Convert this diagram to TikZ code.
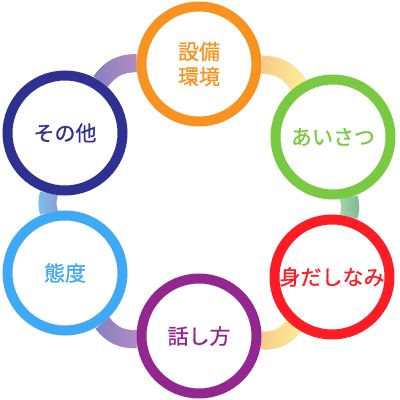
\documentclass[tikz,border=0pt]{standalone}
\usepackage{fontspec}
\newfontfamily\jpfont[FakeBold=0.8]{Noto Sans CJK JP}
\usetikzlibrary{backgrounds,fadings}

\definecolor{setsubiC}{HTML}{F7931E}
\definecolor{aisatsuC}{HTML}{7AC943}
\definecolor{midashiC}{HTML}{FF1D25}
\definecolor{hanashiC}{HTML}{93278F}
\definecolor{taidoC}{HTML}{3FA9F5}
\definecolor{sonotaC}{HTML}{2E3192}
\definecolor{lavLeft}{HTML}{8580C2}
\definecolor{lavRight}{HTML}{BC8EC0}
\definecolor{creamLeft}{HTML}{F7C385}
\definecolor{creamRight}{HTML}{FEF09A}
\definecolor{mintLeft}{HTML}{A4D7A8}
\definecolor{mintRight}{HTML}{7EB993}
\definecolor{skyLeft}{HTML}{7CBEEC}
\definecolor{skyRight}{HTML}{8C9FD8}

\tikzfading[name=fadein right, left color=transparent!100, right color=transparent!0]

\tikzset{
  topic/.style={circle, draw=#1, text=#1, fill=white, line width=10pt,
    minimum size=115pt, inner sep=0pt, align=center},
  link/.style={line width=18pt},
}

\begin{document}
\begin{tikzpicture}[x=1pt,y=1pt,every node/.style={font=\jpfont\fontsize{21}{25}\selectfont}]
\useasboundingbox (0,0) rectangle (400,400);
\node[topic=setsubiC] (setsubi) at (199,336) {設備\\環境};
\node[topic=aisatsuC] (aisatsu) at (333,263) {あいさつ};
\node[topic=midashiC] (midashi) at (332,123) {身だしなみ};
\node[topic=hanashiC] (hanashi) at (199,64) {話し方};
\node[topic=taidoC] (taido) at (65,127) {態度};
\node[topic=sonotaC] (sonota) at (65,267) {その他};
\begin{scope}[on background layer]
\draw[link, lavLeft] (sonota) to[bend left=28] (setsubi);
\draw[link, lavRight, path fading=fadein right] (sonota) to[bend left=28] (setsubi);
\draw[link, creamLeft] (setsubi) to[bend left=28] (aisatsu);
\draw[link, creamRight, path fading=fadein right] (setsubi) to[bend left=28] (aisatsu);
\draw[link, mintLeft] (aisatsu) to[bend left=15] (midashi);
\draw[link, mintRight, path fading=fadein right] (aisatsu) to[bend left=15] (midashi);
\draw[link, creamLeft] (midashi) to[bend left=28] (hanashi);
\draw[link, creamRight, path fading=fadein right] (midashi) to[bend left=28] (hanashi);
\draw[link, lavLeft] (hanashi) to[bend left=28] (taido);
\draw[link, lavRight, path fading=fadein right] (hanashi) to[bend left=28] (taido);
\draw[link, skyLeft] (taido) to[bend left=15] (sonota);
\draw[link, skyRight, path fading=fadein right] (taido) to[bend left=15] (sonota);
\end{scope}
\end{tikzpicture}
\end{document}
